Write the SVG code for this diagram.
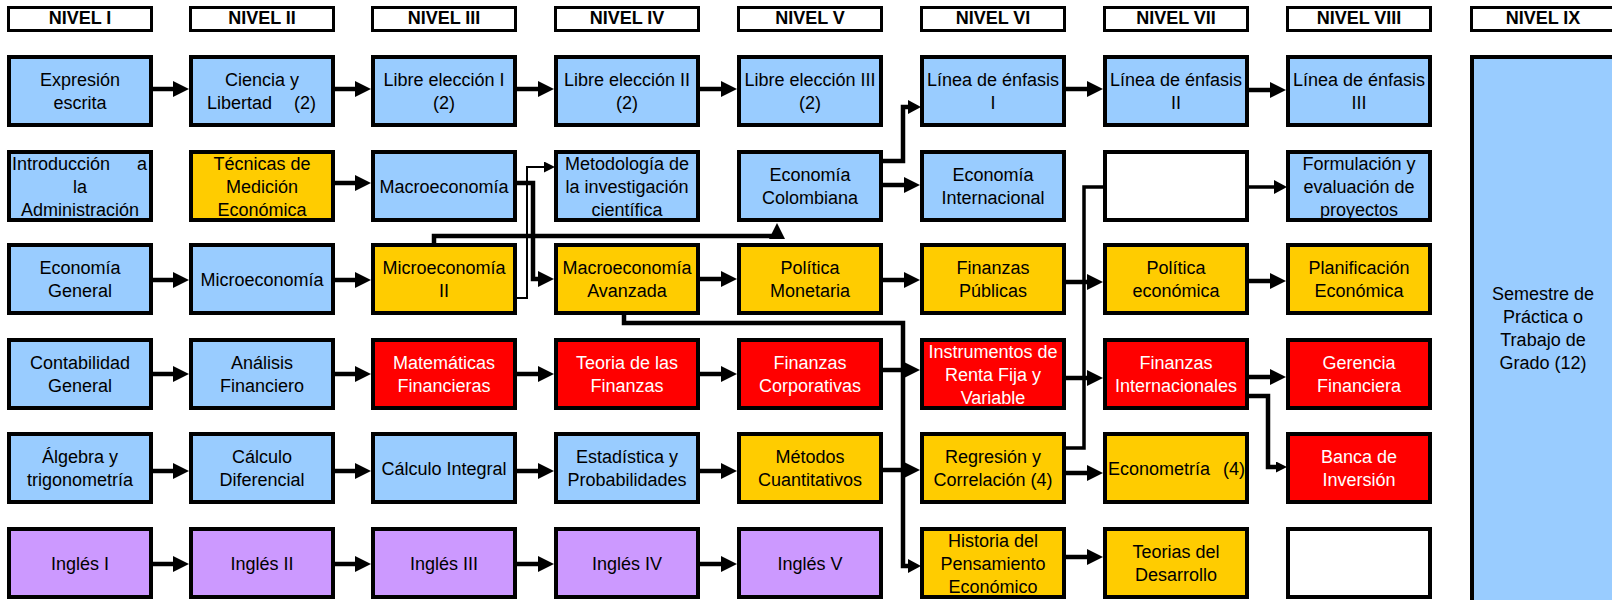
<svg xmlns="http://www.w3.org/2000/svg" width="1612" height="600" viewBox="0 0 1612 600">
<style>
  .box { stroke: #000; stroke-width: 4; }
  .hd { fill: #fff; stroke: #000; stroke-width: 3; }
  .blue { fill: #99CCFF; }
  .yel { fill: #FFCC00; }
  .red { fill: #FF0000; }
  .pur { fill: #CC99FF; }
  .wht { fill: #FFFFFF; }
  text { font-family: "Liberation Sans", Arial, sans-serif; font-size: 18px; text-anchor: middle; fill: #000; }
  text.w { fill: #fff; }
  text.h { font-weight: bold; }
  .c { fill: none; stroke: #000; stroke-width: 4.5; }
  .c2 { fill: none; stroke: #000; stroke-width: 2; }
  .c3 { fill: none; stroke: #000; stroke-width: 3.5; }
  .ab { marker-end: url(#ab); }
  .am { marker-end: url(#am); }
  .as { marker-end: url(#as); }
</style>
<defs>
  <marker id="ab" markerUnits="userSpaceOnUse" markerWidth="16" markerHeight="16" refX="8" refY="8" orient="auto"><path d="M0,0 L16,8 L0,16 z" fill="#000"/></marker>
  <marker id="am" markerUnits="userSpaceOnUse" markerWidth="13" markerHeight="14" refX="6" refY="7" orient="auto"><path d="M0,0 L13,7 L0,14 z" fill="#000"/></marker>
  <marker id="as" markerUnits="userSpaceOnUse" markerWidth="11" markerHeight="11" refX="5" refY="5.5" orient="auto"><path d="M0,0 L11,5.5 L0,11 z" fill="#000"/></marker>
</defs>
<rect width="1612" height="600" fill="#fff"/>

<g id="headers">
  <g id="h1"><rect class="hd" x="8.5" y="7.5" width="143" height="23"/><text class="h" x="80" y="24">NIVEL I</text></g>
  <g id="h2"><rect class="hd" x="190.5" y="7.5" width="143" height="23"/><text class="h" x="262" y="24">NIVEL II</text></g>
  <g id="h3"><rect class="hd" x="372.5" y="7.5" width="143" height="23"/><text class="h" x="444" y="24">NIVEL III</text></g>
  <g id="h4"><rect class="hd" x="555.5" y="7.5" width="143" height="23"/><text class="h" x="627" y="24">NIVEL IV</text></g>
  <g id="h5"><rect class="hd" x="738.5" y="7.5" width="143" height="23"/><text class="h" x="810" y="24">NIVEL V</text></g>
  <g id="h6"><rect class="hd" x="921.5" y="7.5" width="143" height="23"/><text class="h" x="993" y="24">NIVEL VI</text></g>
  <g id="h7"><rect class="hd" x="1104.5" y="7.5" width="143" height="23"/><text class="h" x="1176" y="24">NIVEL VII</text></g>
  <g id="h8"><rect class="hd" x="1287.5" y="7.5" width="143" height="23"/><text class="h" x="1359" y="24">NIVEL VIII</text></g>
  <g id="h9"><rect class="hd" x="1471.5" y="7.5" width="143" height="23"/><text class="h" x="1543" y="24">NIVEL IX</text></g>
</g>

<g id="connectors">
  <!-- row 1 -->
  <path class="c ab" d="M153 89 H181"/>
  <path class="c ab" d="M335 89 H363"/>
  <path class="c ab" d="M517 89 H546"/>
  <path class="c ab" d="M700 89 H729"/>
  <path class="c ab" d="M1066 89 H1095"/>
  <path class="c ab" d="M1249 90 H1278"/>
  <!-- row 2 -->
  <path class="c ab" d="M335 183 H363"/>
  <path class="c ab" d="M883 185 H912"/>
  <!-- row 3 -->
  <path class="c ab" d="M153 280 H181"/>
  <path class="c ab" d="M335 280 H363"/>
  <path class="c ab" d="M700 279 H729"/>
  <path class="c ab" d="M883 280 H912"/>
  <path class="c ab" d="M1066 282 H1095"/>
  <path class="c ab" d="M1249 281 H1278"/>
  <!-- row 4 -->
  <path class="c ab" d="M153 374 H181"/>
  <path class="c ab" d="M335 374 H363"/>
  <path class="c ab" d="M517 374 H546"/>
  <path class="c ab" d="M700 374 H729"/>
  <path class="c ab" d="M883 370 H912"/>
  <path class="c ab" d="M1066 378 H1095"/>
  <path class="c ab" d="M1249 377 H1278"/>
  <!-- row 5 -->
  <path class="c ab" d="M153 471 H181"/>
  <path class="c ab" d="M335 471 H363"/>
  <path class="c ab" d="M517 471 H546"/>
  <path class="c ab" d="M700 471 H729"/>
  <path class="c ab" d="M883 470 H912"/>
  <path class="c ab" d="M1066 473 H1095"/>
  <!-- row 6 -->
  <path class="c ab" d="M153 564 H181"/>
  <path class="c ab" d="M335 564 H363"/>
  <path class="c ab" d="M517 564 H546"/>
  <path class="c ab" d="M700 564 H729"/>
  <path class="c ab" d="M1066 557 H1095"/>
  <!-- elbows -->
  <path class="c2 as" d="M517 298 H527 V167 H549"/>
  <path class="c ab" d="M517 183 H533 V279 H546"/>
  <path class="c ab" d="M434 243 V236 H777 V231"/>
  <path class="c am" d="M624 315 V323 H903 V566 H914"/>
  <path class="c am" d="M883 161 H903 V107 H914"/>
  <path class="c3 am" d="M1066 448 H1084 V187 H1280"/>
  <path class="c as" d="M1249 396 H1268 V467 H1281"/>
</g>

<g id="n-expresion"><rect class="box blue" x="9" y="57" width="142" height="68"/><text x="80" y="86">Expresión<tspan x="80" y="109">escrita</tspan></text></g>
<g id="n-ciencia"><rect class="box blue" x="191" y="57" width="142" height="68"/><text x="262" y="86">Ciencia y</text><text x="207" y="109" style="text-anchor:start">Libertad</text><text x="294" y="109" style="text-anchor:start">(2)</text></g>
<g id="n-libre1"><rect class="box blue" x="373" y="57" width="142" height="68"/><text x="444" y="86">Libre elección I<tspan x="444" y="109">(2)</tspan></text></g>
<g id="n-libre2"><rect class="box blue" x="556" y="57" width="142" height="68"/><text x="627" y="86">Libre elección II<tspan x="627" y="109">(2)</tspan></text></g>
<g id="n-libre3"><rect class="box blue" x="739" y="57" width="142" height="68"/><text x="810" y="86">Libre elección III<tspan x="810" y="109">(2)</tspan></text></g>
<g id="n-linea1"><rect class="box blue" x="922" y="57" width="142" height="68"/><text x="993" y="86">Línea de énfasis<tspan x="993" y="109">I</tspan></text></g>
<g id="n-linea2"><rect class="box blue" x="1105" y="57" width="142" height="68"/><text x="1176" y="86">Línea de énfasis<tspan x="1176" y="109">II</tspan></text></g>
<g id="n-linea3"><rect class="box blue" x="1288" y="57" width="142" height="68"/><text x="1359" y="86">Línea de énfasis<tspan x="1359" y="109">III</tspan></text></g>
<g id="n-semestre"><rect class="box blue" x="1472" y="57" width="200" height="560"/><text x="1543" y="299.5">Semestre de<tspan x="1543" y="322.5">Práctica o</tspan><tspan x="1543" y="345.5">Trabajo de</tspan><tspan x="1543" y="368.5">Grado (12)</tspan></text></g>

<g id="n-intro"><rect class="box blue" x="9" y="152" width="142" height="68"/><text x="12" y="169.5" style="text-anchor:start">Introducción</text><text x="147" y="169.5" style="text-anchor:end">a</text><text x="80" y="192.5">la<tspan x="80" y="215.5">Administración</tspan></text></g>
<g id="n-tecnicas"><rect class="box yel" x="191" y="152" width="142" height="68"/><text x="262" y="169.5">Técnicas de<tspan x="262" y="192.5">Medición</tspan><tspan x="262" y="215.5">Económica</tspan></text></g>
<g id="n-macro"><rect class="box blue" x="373" y="152" width="142" height="68"/><text x="444" y="192.5">Macroeconomía</text></g>
<g id="n-metodologia"><rect class="box blue" x="556" y="152" width="142" height="68"/><text x="627" y="169.5">Metodología de<tspan x="627" y="192.5">la investigación</tspan><tspan x="627" y="215.5">científica</tspan></text></g>
<g id="n-ecocol"><rect class="box blue" x="739" y="152" width="142" height="68"/><text x="810" y="181">Economía<tspan x="810" y="204">Colombiana</tspan></text></g>
<g id="n-ecoint"><rect class="box blue" x="922" y="152" width="142" height="68"/><text x="993" y="181">Economía<tspan x="993" y="204">Internacional</tspan></text></g>
<g id="n-empty7"><rect class="box wht" x="1105" y="152" width="142" height="68"/></g>
<g id="n-formulacion"><rect class="box blue" x="1288" y="152" width="142" height="68"/><text x="1359" y="169.5">Formulación y<tspan x="1359" y="192.5">evaluación de</tspan><tspan x="1359" y="215.5">proyectos</tspan></text></g>

<g id="n-ecogen"><rect class="box blue" x="9" y="245" width="142" height="68"/><text x="80" y="274">Economía<tspan x="80" y="297">General</tspan></text></g>
<g id="n-micro"><rect class="box blue" x="191" y="245" width="142" height="68"/><text x="262" y="285.5">Microeconomía</text></g>
<g id="n-micro2"><rect class="box yel" x="373" y="245" width="142" height="68"/><text x="444" y="274">Microeconomía<tspan x="444" y="297">II</tspan></text></g>
<g id="n-macroav"><rect class="box yel" x="556" y="245" width="142" height="68"/><text x="627" y="274">Macroeconomía<tspan x="627" y="297">Avanzada</tspan></text></g>
<g id="n-polmon"><rect class="box yel" x="739" y="245" width="142" height="68"/><text x="810" y="274">Política<tspan x="810" y="297">Monetaria</tspan></text></g>
<g id="n-finpub"><rect class="box yel" x="922" y="245" width="142" height="68"/><text x="993" y="274">Finanzas<tspan x="993" y="297">Públicas</tspan></text></g>
<g id="n-poleco"><rect class="box yel" x="1105" y="245" width="142" height="68"/><text x="1176" y="274">Política<tspan x="1176" y="297">económica</tspan></text></g>
<g id="n-planif"><rect class="box yel" x="1288" y="245" width="142" height="68"/><text x="1359" y="274">Planificación<tspan x="1359" y="297">Económica</tspan></text></g>

<g id="n-contab"><rect class="box blue" x="9" y="340" width="142" height="68"/><text x="80" y="369">Contabilidad<tspan x="80" y="392">General</tspan></text></g>
<g id="n-analisis"><rect class="box blue" x="191" y="340" width="142" height="68"/><text x="262" y="369">Análisis<tspan x="262" y="392">Financiero</tspan></text></g>
<g id="n-matfin"><rect class="box red" x="373" y="340" width="142" height="68"/><text class="w" x="444" y="369">Matemáticas<tspan x="444" y="392">Financieras</tspan></text></g>
<g id="n-teofin"><rect class="box red" x="556" y="340" width="142" height="68"/><text class="w" x="627" y="369">Teoria de las<tspan x="627" y="392">Finanzas</tspan></text></g>
<g id="n-fincorp"><rect class="box red" x="739" y="340" width="142" height="68"/><text class="w" x="810" y="369">Finanzas<tspan x="810" y="392">Corporativas</tspan></text></g>
<g id="n-instr"><rect class="box red" x="922" y="340" width="142" height="68"/><text class="w" x="993" y="357.5">Instrumentos de<tspan x="993" y="380.5">Renta Fija y</tspan><tspan x="993" y="403.5">Variable</tspan></text></g>
<g id="n-finint"><rect class="box red" x="1105" y="340" width="142" height="68"/><text class="w" x="1176" y="369">Finanzas<tspan x="1176" y="392">Internacionales</tspan></text></g>
<g id="n-gerencia"><rect class="box red" x="1288" y="340" width="142" height="68"/><text class="w" x="1359" y="369">Gerencia<tspan x="1359" y="392">Financiera</tspan></text></g>

<g id="n-algebra"><rect class="box blue" x="9" y="434" width="142" height="68"/><text x="80" y="463">Álgebra y<tspan x="80" y="486">trigonometría</tspan></text></g>
<g id="n-calcdif"><rect class="box blue" x="191" y="434" width="142" height="68"/><text x="262" y="463">Cálculo<tspan x="262" y="486">Diferencial</tspan></text></g>
<g id="n-calcint"><rect class="box blue" x="373" y="434" width="142" height="68"/><text x="444" y="474.5">Cálculo Integral</text></g>
<g id="n-estad"><rect class="box blue" x="556" y="434" width="142" height="68"/><text x="627" y="463">Estadística y<tspan x="627" y="486">Probabilidades</tspan></text></g>
<g id="n-metodos"><rect class="box yel" x="739" y="434" width="142" height="68"/><text x="810" y="463">Métodos<tspan x="810" y="486">Cuantitativos</tspan></text></g>
<g id="n-regresion"><rect class="box yel" x="922" y="434" width="142" height="68"/><text x="993" y="463">Regresión y<tspan x="993" y="486">Correlación (4)</tspan></text></g>
<g id="n-econometria"><rect class="box yel" x="1105" y="434" width="142" height="68"/><text x="1108" y="474.5" style="text-anchor:start">Econometría</text><text x="1245" y="474.5" style="text-anchor:end">(4)</text></g>
<g id="n-banca"><rect class="box red" x="1288" y="434" width="142" height="68"/><text class="w" x="1359" y="463">Banca de<tspan x="1359" y="486">Inversión</tspan></text></g>

<g id="n-ingles1"><rect class="box pur" x="9" y="529" width="142" height="68"/><text x="80" y="570">Inglés I</text></g>
<g id="n-ingles2"><rect class="box pur" x="191" y="529" width="142" height="68"/><text x="262" y="570">Inglés II</text></g>
<g id="n-ingles3"><rect class="box pur" x="373" y="529" width="142" height="68"/><text x="444" y="570">Inglés III</text></g>
<g id="n-ingles4"><rect class="box pur" x="556" y="529" width="142" height="68"/><text x="627" y="570">Inglés IV</text></g>
<g id="n-ingles5"><rect class="box pur" x="739" y="529" width="142" height="68"/><text x="810" y="570">Inglés V</text></g>
<g id="n-historia"><rect class="box yel" x="922" y="529" width="142" height="68"/><text x="993" y="546.5">Historia del<tspan x="993" y="569.5">Pensamiento</tspan><tspan x="993" y="592.5">Económico</tspan></text></g>
<g id="n-teorias"><rect class="box yel" x="1105" y="529" width="142" height="68"/><text x="1176" y="558">Teorias del<tspan x="1176" y="581">Desarrollo</tspan></text></g>
<g id="n-empty8"><rect class="box wht" x="1288" y="529" width="142" height="68"/></g>
</svg>
